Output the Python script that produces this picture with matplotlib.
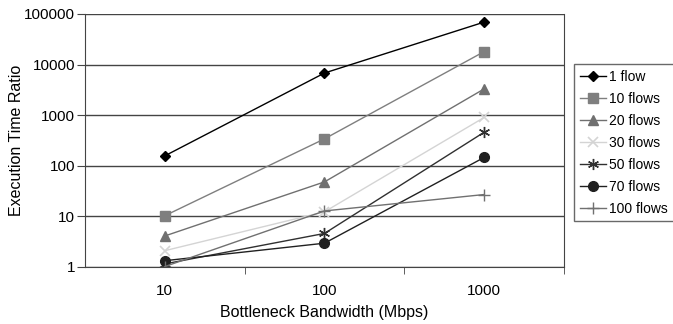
from matplotlib import pyplot as plt
from matplotlib.ticker import FixedLocator, NullFormatter, NullLocator

plt.rcParams['font.family'] = ['Liberation Sans', 'DejaVu Sans']

bandwidths = ['10', '100', '1000']
flow_labels = ['1 flow', '10 flows', '20 flows', '30 flows', '50 flows', '70 flows', '100 flows']
flow_1 = [157, 6800, 69000]
flow_10 = [10.3, 340, 18000]
flow_20 = [4.1, 48, 3300]
flow_30 = [2.1, 12.3, 900]
flow_50 = [1.15, 4.6, 460]
flow_70 = [1.33, 2.95, 146]
flow_100 = [1.02, 12.8, 27]
series = [flow_1, flow_10, flow_20, flow_30, flow_50, flow_70, flow_100]

styles = [
    dict(color='black', marker='D', markersize=5),
    dict(color='#7f7f7f', marker='s', markersize=7),
    dict(color='#707070', marker='^', markersize=7),
    dict(color='#d4d4d4', marker='x', markersize=7, markeredgewidth=1.2),
    dict(color='#303030', marker=(6, 2, 0), markersize=8, markeredgewidth=1.0),
    dict(color='#202020', marker='o', markersize=7),
    dict(color='#707070', marker='+', markersize=9, markeredgewidth=1.0),
]

fig = plt.figure(figsize=(6.73, 3.24), dpi=100)
ax = fig.add_axes([0.1263, 0.176, 0.7117, 0.781])

x = list(range(len(bandwidths)))
for vals, lab, st in zip(series, flow_labels, styles):
    ax.plot(x, vals, label=lab, linewidth=1.0, **st)

ax.set_yscale('log')
ax.set_ylim(1, 100000)
ax.set_xlim(-0.5, len(bandwidths) - 0.5)
ax.yaxis.set_major_locator(FixedLocator([1, 10, 100, 1000, 10000, 100000]))
ax.set_yticklabels(['1', '10', '100', '1000', '10000', '100000'])
ax.yaxis.set_minor_locator(NullLocator())
ax.grid(axis='y', color='#444444', linewidth=1.0)
ax.set_axisbelow(True)

ax.set_xticks(x)
ax.set_xticklabels(bandwidths)
ax.tick_params(axis='x', which='major', length=0, pad=12)
ax.xaxis.set_minor_locator(FixedLocator([0.5, 1.5, 2.5]))
ax.xaxis.set_minor_formatter(NullFormatter())
ax.tick_params(axis='x', which='minor', length=5, color='#444444')
ax.tick_params(axis='y', length=6, pad=1, color='#444444')
ax.tick_params(labelsize=11)

for s in ['left', 'bottom', 'right']:
    ax.spines[s].set_color('#444444')
ax.spines['top'].set_visible(False)

ax.set_xlabel('Bottleneck Bandwidth (Mbps)', fontsize=11.5, labelpad=5)
ax.set_ylabel('Execution Time Ratio', fontsize=11.5, labelpad=0)

leg = ax.legend(loc='upper left', bbox_to_anchor=(1.021, 0.802), borderaxespad=0,
                fontsize=10, frameon=True, fancybox=False, edgecolor='#444444',
                handlelength=1.9, borderpad=0.4, labelspacing=0.58, handletextpad=0.25)
leg.get_frame().set_linewidth(1.0)

fig.savefig('out.png', dpi=100)
